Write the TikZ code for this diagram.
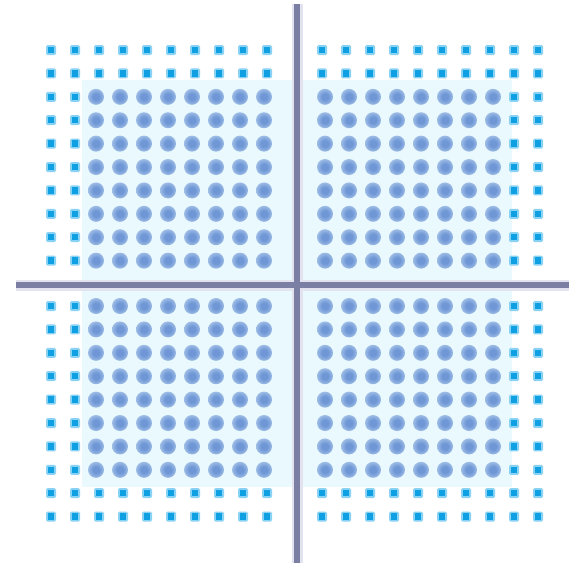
\documentclass[tikz,border=0pt]{standalone}
\definecolor{bgc}{HTML}{E9F9FE}
\definecolor{dotc}{HTML}{6F97D6}
\definecolor{ocore}{HTML}{0EA0E2}
\definecolor{ohalo}{HTML}{8AD2F3}
\definecolor{axc}{HTML}{7B7FA3}
\definecolor{axh}{HTML}{E2E3EF}
\pgfdeclareradialshading{softdot}{\pgfpoint{0bp}{0bp}}{color(0bp)=(dotc); color(10bp)=(dotc); color(50bp)=(bgc)}
\tikzset{
  outerhalo/.style={fill=ohalo, rounded corners=1.5pt},
  outercore/.style={fill=ocore},
  innerdot/.style={shading=softdot},
  innerbg/.style={fill=bgc},
  axishalo/.style={draw=axh, line width=11pt},
  axisline/.style={draw=axc, line width=5.5pt}
}
\begin{document}
\begin{tikzpicture}[x=1pt,y=-1pt]
\useasboundingbox (0,0) rectangle (569,566);
\fill[white] (0,0) rectangle (569,566);
% shaded inner region
\fill[innerbg] (82,80) rectangle (512,487);
% dots
\foreach \qx/\ox in {0/51,1/322}{
 \foreach \qy/\oy in {0/50,1/306}{
  \foreach \i in {0,...,9}{
   \foreach \j in {0,...,9}{
    \pgfmathtruncatemacro\ci{\qx==0 ? \i : 9-\i}
    \pgfmathtruncatemacro\cj{\qy==0 ? \j : 9-\j}
    \pgfmathsetmacro\xx{\ox+24*\i}
    \pgfmathsetmacro\yy{\oy+23.4*\j}
    \pgfmathsetmacro\sx{\qx==0 ? -3 : 3}
    \ifnum\ci<2
      \fill[outerhalo] (\xx-5,\yy-5) rectangle (\xx+5,\yy+5);
      \fill[outercore] (\xx-3.2,\yy-3.2) rectangle (\xx+3.2,\yy+3.2);
    \else\ifnum\cj<2
      \fill[outerhalo] (\xx-5,\yy-5) rectangle (\xx+5,\yy+5);
      \fill[outercore] (\xx-3.2,\yy-3.2) rectangle (\xx+3.2,\yy+3.2);
    \else
      \shade[innerdot] (\xx+\sx,\yy) circle[radius=8pt];
    \fi\fi
   }
  }
 }
}
% axes
\coordinate (vt) at (297,4);
\coordinate (vb) at (297,563);
\coordinate (hl) at (16,285);
\coordinate (hr) at (569,285);
\draw[axishalo] (vt) -- (vb);
\draw[axishalo] (hl) -- (hr);
\draw[axisline] (vt) -- (vb);
\draw[axisline] (hl) -- (hr);
\end{tikzpicture}
\end{document}
